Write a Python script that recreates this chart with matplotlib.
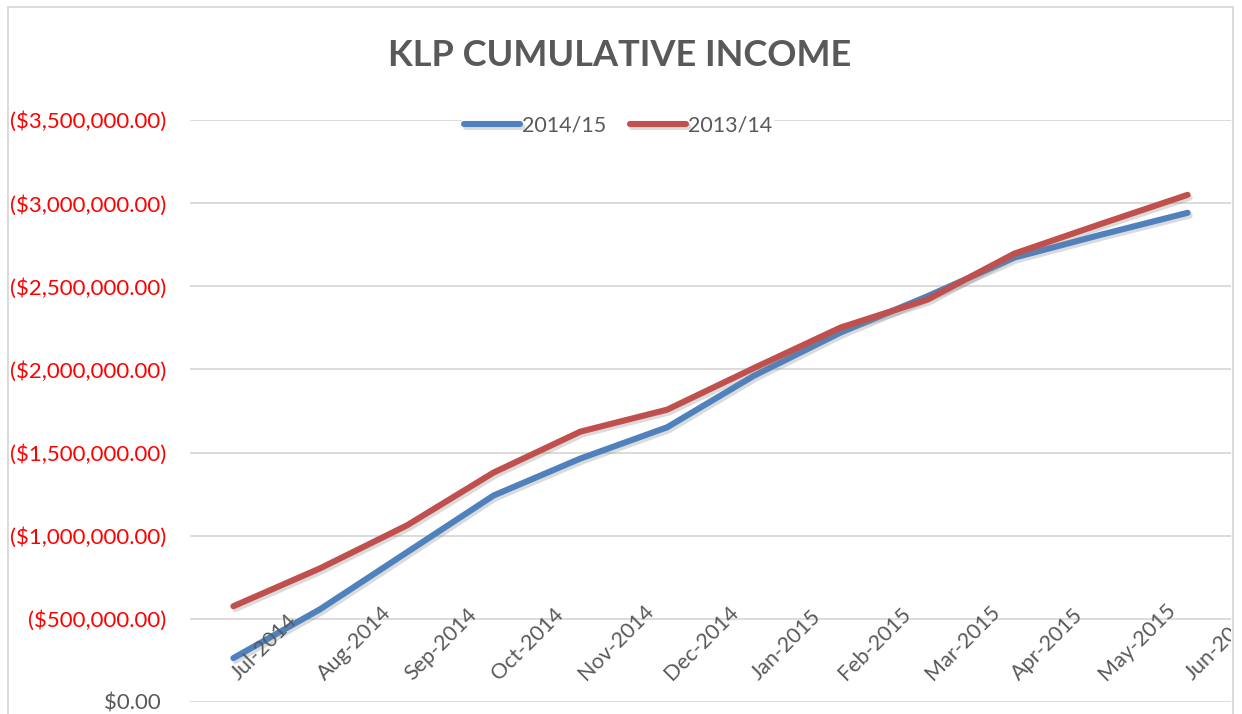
import matplotlib
matplotlib.use('Agg')
import matplotlib.pyplot as plt
import matplotlib.patheffects as pe
from matplotlib.patches import Rectangle
from matplotlib.ticker import FuncFormatter, MultipleLocator
import numpy as np

plt.rcParams['font.family'] = ['Lato', 'DejaVu Sans']

months = ['Jul-2014', 'Aug-2014', 'Sep-2014', 'Oct-2014', 'Nov-2014', 'Dec-2014',
          'Jan-2015', 'Feb-2015', 'Mar-2015', 'Apr-2015', 'May-2015', 'Jun-2015']
# cumulative income (stored as negatives, as in the source sheet)
inc_1415 = [-264000, -558000, -900000, -1242000, -1464000, -1652000,
            -1962000, -2222000, -2440000, -2672000, -2810000, -2942000]
inc_1314 = [-576000, -804000, -1062000, -1380000, -1626000, -1758000,
            -2008000, -2252000, -2420000, -2696000, -2875000, -3050000]

BLUE = '#4F81BD'
RED = '#C0504D'
GREY = '#595959'

fig = plt.figure(figsize=(12.42, 7.14), dpi=100)
ax = fig.add_axes([190/1242, 1-702/714, (1231-190)/1242, (702-120)/714])

x = np.arange(len(months))
shadow = [pe.SimpleLineShadow(offset=(1.5, -2), shadow_color='#808080', alpha=0.28), pe.Normal()]
ax.plot(x, inc_1415, color=BLUE, lw=4.4, solid_capstyle='round', solid_joinstyle='round',
        label='2014/15', path_effects=shadow, zorder=3)
ax.plot(x, inc_1314, color=RED, lw=4.4, solid_capstyle='round', solid_joinstyle='round',
        label='2013/14', path_effects=shadow, zorder=3)

ax.set_xlim(-0.5, 11.5)
ax.set_ylim(0, -3500000)
ax.yaxis.set_major_locator(MultipleLocator(500000))
ax.grid(axis='y', color='#D9D9D9', lw=1.3)
ax.set_axisbelow(True)
for s in ax.spines.values():
    s.set_visible(False)
ax.set_xticks([])


def money(v, pos):
    if v < 0:
        return '(${:,.2f})'.format(-v)
    return '${:,.2f} '.format(v)


ax.yaxis.set_major_formatter(FuncFormatter(money))
ax.tick_params(axis='y', length=0, pad=17, labelsize=16)
fig.canvas.draw()
for lab in ax.get_yticklabels():
    lab.set_color(GREY if lab.get_text().startswith('$') else '#FF0000')

# month labels sit inside the plot area, rotated, starting at each category
for i, m in enumerate(months):
    ax.text(i + 0.06, -128000, m, rotation=45, rotation_mode='anchor', ha='left', va='baseline',
            fontsize=15.5, color=GREY, clip_on=True, zorder=4)

ax.legend(loc='center', bbox_to_anchor=(618/1242, 1-126/714), bbox_transform=fig.transFigure,
          ncol=2, frameon=True, facecolor='white', edgecolor='none', framealpha=1,
          fontsize=15.5, labelcolor=GREY, handlelength=2.6, handletextpad=0.1,
          columnspacing=1.1, borderpad=0.1)

fig.text(620/1242, 1-55/714, 'KLP CUMULATIVE INCOME', ha='center', va='center',
         fontsize=26, fontweight='bold', color=GREY)

fig.add_artist(Rectangle((8/1242, -0.05), (1233-8)/1242, 1.05-7/714, transform=fig.transFigure,
                         fill=False, edgecolor='#D9D9D9', lw=1.3))

fig.savefig('out.png', dpi=100)
